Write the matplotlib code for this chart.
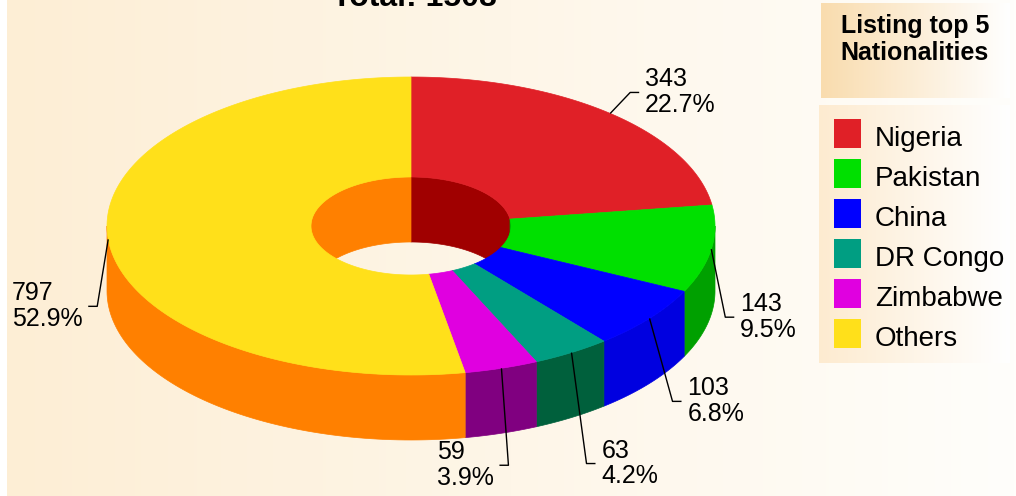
import numpy as np
import matplotlib
matplotlib.use("Agg")
import matplotlib.pyplot as plt
from matplotlib.patches import Polygon, Rectangle
from matplotlib.colors import to_rgb

plt.rcParams["font.family"] = ["Liberation Sans", "DejaVu Sans"]

# =========================================================
# DATA
# =========================================================
names = ["Nigeria", "Pakistan", "China", "DR Congo", "Zimbabwe", "Others"]
counts = [343, 143, 103, 63, 59, 797]
top_colors = ["#E02027", "#00E000", "#0000FF", "#009E82", "#E000E0", "#FFE01A"]
side_colors = ["#A00000", "#00A000", "#0000E0", "#00603C", "#800080", "#FF8000"]
legend_title = "Listing top 5\nNationalities"

# label placement (px offsets of leader end from slice edge)
label_offsets = [(20, -21), (14, 3), (23, 18), (15, 46), (7, 32), (-11, 2)]
label_side = ["right", "right", "right", "right", "left", "left"]

# =========================================================
# GEOMETRY (pixels)
# =========================================================
W, H = 1016, 496
CX, CY = 411, 226
RX, RY = 304, 149
RX_IN, RY_IN = 100, 49
DEPTH = 65

total = sum(counts)
fracs = np.array(counts) / total
ends = 90 - 360 * np.cumsum(fracs)
starts = np.concatenate([[90], ends[:-1]])


def ell(t, rx, ry, dy=0.0):
    t = np.radians(np.atleast_1d(t))
    return np.column_stack([CX + rx * np.cos(t), CY - ry * np.sin(t) + dy])


def wall(a, b, rx, ry):
    ts = np.linspace(a, b, 80)
    top = ell(ts, rx, ry)
    bot = ell(ts[::-1], rx, ry, DEPTH)
    return np.vstack([top, bot])


def overlap(a, b, lo, hi):
    lo2, hi2 = max(a, lo), min(b, hi)
    return (lo2, hi2) if hi2 > lo2 else None


def hgrad(ax, c0, c1, extent, z):
    c0, c1 = np.array(to_rgb(c0)), np.array(to_rgb(c1))
    x = np.linspace(0, 1, 256)[None, :, None]
    img = c0 + (c1 - c0) * x
    ax.imshow(img, extent=extent, aspect="auto", zorder=z, interpolation="bilinear")


fig = plt.figure(figsize=(W / 100, H / 100), dpi=100, facecolor="white")
ax = fig.add_axes([0, 0, 1, 1])
ax.set_xlim(0, W)
ax.set_ylim(H, 0)
ax.axis("off")

# background
hgrad(ax, "#FDEED5", "#FFFEFB", [7, W, H, 0], 0)

# outer front walls
for s, e, c in zip(starts, ends, side_colors):
    seg = overlap(e, s, -180, 0)
    if seg:
        ax.add_patch(Polygon(wall(seg[0], seg[1], RX, RY), closed=True,
                             facecolor=c, edgecolor=c, lw=0.5, zorder=2))

# inner back walls
for s, e, c in zip(starts, ends, side_colors):
    for lo, hi in [(0, 180), (-360, -180)]:
        seg = overlap(e, s, lo, hi)
        if seg:
            ax.add_patch(Polygon(wall(seg[0], seg[1], RX_IN, RY_IN), closed=True,
                                 facecolor=c, edgecolor=c, lw=0.5, zorder=2))

# top surface
for s, e, c in zip(starts, ends, top_colors):
    ts = np.linspace(s, e, 150)
    pts = np.vstack([ell(ts, RX, RY), ell(ts[::-1], RX_IN, RY_IN)])
    ax.add_patch(Polygon(pts, closed=True, facecolor=c, edgecolor=c, lw=0.5, zorder=3))

# labels with leader lines
for s, e, n, f, off, side in zip(starts, ends, counts, fracs, label_offsets, label_side):
    m = (s + e) / 2
    p0 = ell(m, RX, RY)[0]
    base = p0 + np.array([0, DEPTH if np.sin(np.radians(m)) < 0 else 0])
    p1 = base + np.array(off)
    sign = 1 if side == "right" else -1
    p2 = p1 + np.array([9 * sign, 0])
    ax.plot([p0[0], p1[0], p2[0]], [p0[1], p1[1], p2[1]], color="black", lw=1.0,
            zorder=5, solid_capstyle="butt")
    ax.text(p2[0] + 6 * sign, p2[1], f"{n}\n{f * 100:.1f}%", fontsize=18,
            ha="left" if side == "right" else "right", va="center",
            multialignment="left", linespacing=1.1, color="black", zorder=6)

# title (partly outside the image, as in the original)
fig.text(414 / W, 1 - 6 / H, f"Total: {total}", fontsize=23, fontweight="bold",
         ha="center", va="baseline")

# legend header
hgrad(ax, "#F9DCAE", "#FFFFFF", [821, 1010, 98, 3], 1)
for i, line in enumerate(legend_title.split("\n")):
    ax.text(915, 33 + 27 * i, line, fontsize=18, fontweight="bold",
            ha="center", va="baseline", zorder=6)

# legend body
hgrad(ax, "#FDEBD0", "#FFFFFF", [819, 1010, 363, 105], 1)
for i, (nm, c) in enumerate(zip(names, top_colors)):
    ax.add_patch(Rectangle((834, 119 + 40 * i), 27, 29, facecolor=c, edgecolor="none", zorder=4))
    ax.text(875, 146 + 40 * i, nm, fontsize=20, ha="left", va="baseline", zorder=6)

fig.savefig("out.png", dpi=100, facecolor="white")
